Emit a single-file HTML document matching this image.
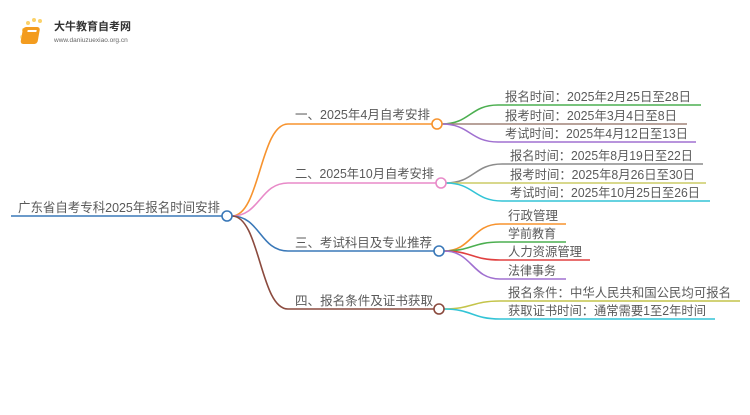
<!DOCTYPE html>
<html><head><meta charset="utf-8"><style>
body{margin:0;background:#fff;width:750px;height:410px;overflow:hidden}
svg text{font-family:"Liberation Sans","Noto Sans CJK SC",sans-serif;fill:#5a5a5a}
</style></head><body>
<svg width="750" height="410" viewBox="0 0 750 410" xmlns="http://www.w3.org/2000/svg">
<g>
<circle cx="24" cy="30" r="2" fill="#fbd26a"/><circle cx="28" cy="23" r="2" fill="#fbd26a"/><circle cx="34" cy="20" r="2" fill="#fbd26a"/><circle cx="40" cy="21" r="2" fill="#fbd26a"/><circle cx="22" cy="37" r="2" fill="#fce59e"/>
<rect x="28" y="27" width="17" height="17" rx="3" fill="#f39c1f" transform="skewX(-10)"/>
<rect x="33" y="30" width="9" height="2" fill="#fff" transform="skewX(-10)"/>
<text x="54" y="30" font-size="11" style="fill:#333;font-weight:bold">大牛教育自考网</text>
<text x="54" y="42" font-size="6.5" style="fill:#666">www.daniuzuexiao.org.cn</text>
</g>
<g fill="none" stroke-width="1.6">
<line x1="11" y1="216" x2="222" y2="216" stroke="#3a78b8"/>
<path d="M232 216 C260 216,260 124,288 124 L436 124" stroke="#f7932e"/>
<path d="M232 216 C260 216,260 183,288 183 L440 183" stroke="#e88ac8"/>
<path d="M232 216 C260 216,260 251,288 251 L438 251" stroke="#3a78b8"/>
<path d="M232 216 C260 216,260 309,288 309 L438 309" stroke="#8b4a3e"/>
<path d="M442 124 C470 124,470 105,498 105 L701 105" stroke="#4caf50"/>
<path d="M442 124 L687 124" stroke="#a08478"/>
<path d="M442 124 C470 124,470 142,498 142 L696 142" stroke="#a070d0"/>
<path d="M446 183 C474 183,474 164,502 164 L703 164" stroke="#8c8c8c"/>
<path d="M446 183 L706 183" stroke="#cccc66"/>
<path d="M446 183 C474 183,474 201,502 201 L710 201" stroke="#33c4d6"/>
<path d="M444 251 C472 251,472 224,500 224 L566 224" stroke="#f7932e"/>
<path d="M444 251 C472 251,472 242,500 242 L566 242" stroke="#4caf50"/>
<path d="M444 251 C472 251,472 260,500 260 L590 260" stroke="#e04040"/>
<path d="M444 251 C472 251,472 279,500 279 L566 279" stroke="#a070d0"/>
<path d="M444 309 C472 309,472 301,500 301 L740 301" stroke="#c4c44a"/>
<path d="M444 309 C472 309,472 319,500 319 L715 319" stroke="#33c4d6"/>
</g>
<g fill="#fff" stroke-width="1.6">
<circle cx="227" cy="216" r="5" stroke="#3a78b8"/>
<circle cx="437" cy="124" r="5" stroke="#f7932e"/>
<circle cx="441" cy="183" r="5" stroke="#e88ac8"/>
<circle cx="439" cy="251" r="5" stroke="#3a78b8"/>
<circle cx="439" cy="309" r="5" stroke="#8b4a3e"/>
</g>
<g font-size="12.5" lengthAdjust="spacingAndGlyphs">
<text x="18" y="212" font-size="13" textLength="202" lengthAdjust="spacingAndGlyphs">广东省自考专科2025年报名时间安排</text>
<text x="295" y="119" textLength="135" lengthAdjust="spacingAndGlyphs">一、2025年4月自考安排</text>
<text x="295" y="178" textLength="139" lengthAdjust="spacingAndGlyphs">二、2025年10月自考安排</text>
<text x="295" y="247" textLength="137" lengthAdjust="spacingAndGlyphs">三、考试科目及专业推荐</text>
<text x="295" y="305" textLength="138" lengthAdjust="spacingAndGlyphs">四、报名条件及证书获取</text>
<text x="505" y="101" textLength="186" lengthAdjust="spacingAndGlyphs">报名时间：2025年2月25日至28日</text>
<text x="505" y="120" textLength="172" lengthAdjust="spacingAndGlyphs">报考时间：2025年3月4日至8日</text>
<text x="505" y="138" textLength="183" lengthAdjust="spacingAndGlyphs">考试时间：2025年4月12日至13日</text>
<text x="510" y="160" textLength="183" lengthAdjust="spacingAndGlyphs">报名时间：2025年8月19日至22日</text>
<text x="510" y="179" textLength="185" lengthAdjust="spacingAndGlyphs">报考时间：2025年8月26日至30日</text>
<text x="510" y="197" textLength="190" lengthAdjust="spacingAndGlyphs">考试时间：2025年10月25日至26日</text>
<text x="508" y="220" textLength="50" lengthAdjust="spacingAndGlyphs">行政管理</text>
<text x="508" y="238" textLength="48" lengthAdjust="spacingAndGlyphs">学前教育</text>
<text x="508" y="256" textLength="74" lengthAdjust="spacingAndGlyphs">人力资源管理</text>
<text x="508" y="275" textLength="48" lengthAdjust="spacingAndGlyphs">法律事务</text>
<text x="508" y="297" textLength="223" lengthAdjust="spacingAndGlyphs">报名条件：中华人民共和国公民均可报名</text>
<text x="508" y="315" textLength="198" lengthAdjust="spacingAndGlyphs">获取证书时间：通常需要1至2年时间</text>
</g>
</svg>
</body></html>
